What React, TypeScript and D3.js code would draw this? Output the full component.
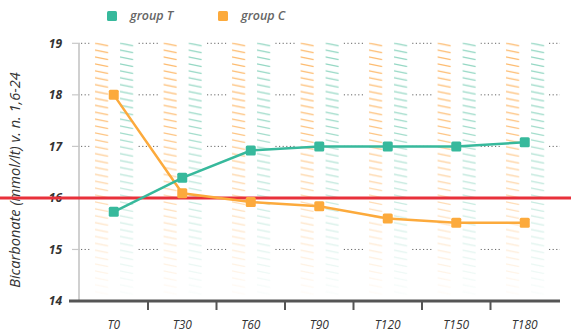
import React from "react";
import * as d3 from "d3";

const categories = ["T0", "T30", "T60", "T90", "T120", "T150", "T180"];
const groupT = [15.73, 16.39, 16.92, 17.0, 17.0, 17.0, 17.08];
const groupC = [18.0, 16.09, 15.92, 15.84, 15.6, 15.52, 15.52];
const yTicks = [14, 15, 16, 17, 18, 19];
const refValue = 16;
const seriesNames = ["group T", "group C"];

const W = 571, H = 334;
const TEAL = "#37b99c";
const ORANGE = "#fcaa3c";
const RED = "#e8313b";
const FONT = "'Open Sans', 'DejaVu Sans', sans-serif";

export default function App() {
  const x = d3.scaleBand<string>().domain(categories).range([79.5, 559]);
  const y = d3.scaleLinear().domain([14, 19]).range([301, 43.3]);
  const cx = (c: string) => (x(c) as number) + x.bandwidth() / 2;
  const lineGen = (vals: number[]) =>
    d3.line<number>().x((_, i) => cx(categories[i])).y((v) => y(v))(vals) as string;
  const top = y(19), bottom = y(14) - 4;
  const barH = bottom - top;

  return (
    <>
      <style>{"body{margin:0}"}</style>
      <svg width={W} height={H} style={{ display: "block", fontFamily: FONT }}>
        <defs>
          <pattern id="hatchO" patternUnits="userSpaceOnUse" width={16} height={6.9}>
            <line x1={0} y1={0.8} x2={13.5} y2={3.6} stroke="#fdb868" strokeWidth={1.1} />
          </pattern>
          <pattern id="hatchT" patternUnits="userSpaceOnUse" width={16} height={6.9}>
            <line x1={0} y1={0.8} x2={13.5} y2={3.6} stroke="#8ed5c0" strokeWidth={1.1} />
          </pattern>
          <linearGradient id="fade" x1="0" y1="0" x2="0" y2="1">
            <stop offset="0" stopColor="#fff" stopOpacity={1} />
            <stop offset="0.3" stopColor="#fff" stopOpacity={0.9} />
            <stop offset="1" stopColor="#fff" stopOpacity={0.04} />
          </linearGradient>
          <mask id="fadeMask" maskContentUnits="objectBoundingBox">
            <rect x={0} y={0} width={1} height={1} fill="url(#fade)" />
          </mask>
        </defs>

        {/* dotted gridlines */}
        {yTicks.slice(1).map((t) => (
          <line key={"g" + t} x1={81} x2={560} y1={y(t)} y2={y(t)}
            stroke="#666" strokeWidth={1} strokeDasharray="1.2,2.4" />
        ))}

        {/* hatched columns */}
        {categories.map((c) => (
          <g key={"b" + c}>
            <rect x={cx(c) - 24} y={top - 2} width={48} height={barH + 6} fill="#fff" />
            <g transform={`translate(${cx(c) - 19},${top - 1})`} mask="url(#fadeMask)">
              <rect x={0} y={0} width={14} height={barH} fill="url(#hatchO)" />
            </g>
            <g transform={`translate(${cx(c) + 6},${top - 1})`} mask="url(#fadeMask)">
              <rect x={0} y={0} width={14} height={barH} fill="url(#hatchT)" />
            </g>
          </g>
        ))}

        {/* y axis */}
        <line x1={79} x2={79} y1={y(19)} y2={y(14)} stroke="#d0d0d0" strokeWidth={2} />
        {yTicks.map((t) => (
          <g key={"yt" + t}>
            <line x1={72} x2={80} y1={y(t)} y2={y(t)} stroke="#c8c8c8" strokeWidth={1.2} />
            <text x={62} y={y(t)} dy="0.36em" textAnchor="end" fontSize={12}
              fontStyle="italic" fontWeight={700} fill="#333">{t}</text>
          </g>
        ))}

        {/* x axis */}
        <line x1={69} x2={560} y1={y(14)} y2={y(14)} stroke="#555" strokeWidth={3} />
        {categories.slice(1).map((c) => (
          <line key={"xt" + c} x1={x(c) as number} x2={x(c) as number} y1={y(14)} y2={y(14) + 9}
            stroke="#555" strokeWidth={2} />
        ))}
        {categories.map((c) => (
          <text key={"xl" + c} x={cx(c)} y={325} dy="0.35em" textAnchor="middle" fontSize={12}
            fontStyle="italic" fill="#333">{c}</text>
        ))}

        {/* y title */}
        <text transform={`translate(19.5,180) rotate(-90)`} textAnchor="middle"
          fontSize={14.6} fontStyle="italic" fill="#333">Bicarbonate (mmol/lt) v. n. 1,6-24</text>

        {/* reference line */}
        <line x1={0} x2={W} y1={y(refValue)} y2={y(refValue)} stroke={RED} strokeWidth={3} />

        {/* series */}
        <path d={lineGen(groupC)} fill="none" stroke={ORANGE} strokeWidth={2.5} />
        <path d={lineGen(groupT)} fill="none" stroke={TEAL} strokeWidth={2.5} />
        {groupC.map((v, i) => (
          <rect key={"pc" + i} x={cx(categories[i]) - 5} y={y(v) - 5} width={10} height={10}
            rx={1.5} fill={ORANGE} />
        ))}
        {groupT.map((v, i) => (
          <rect key={"pt" + i} x={cx(categories[i]) - 5} y={y(v) - 5} width={10} height={10}
            rx={1.5} fill={TEAL} />
        ))}

        {/* legend */}
        {seriesNames.map((n, i) => (
          <g key={"lg" + n} transform={`translate(${107 + i * 111},11)`}>
            <rect x={0} y={0} width={10} height={10} rx={1.5} fill={i === 0 ? TEAL : ORANGE} />
            <text x={23} y={5} dy="0.35em" fontSize={12.5} fontStyle="italic" fontWeight={600}
              fill="#666">{n}</text>
          </g>
        ))}
      </svg>
    </>
  );
}
